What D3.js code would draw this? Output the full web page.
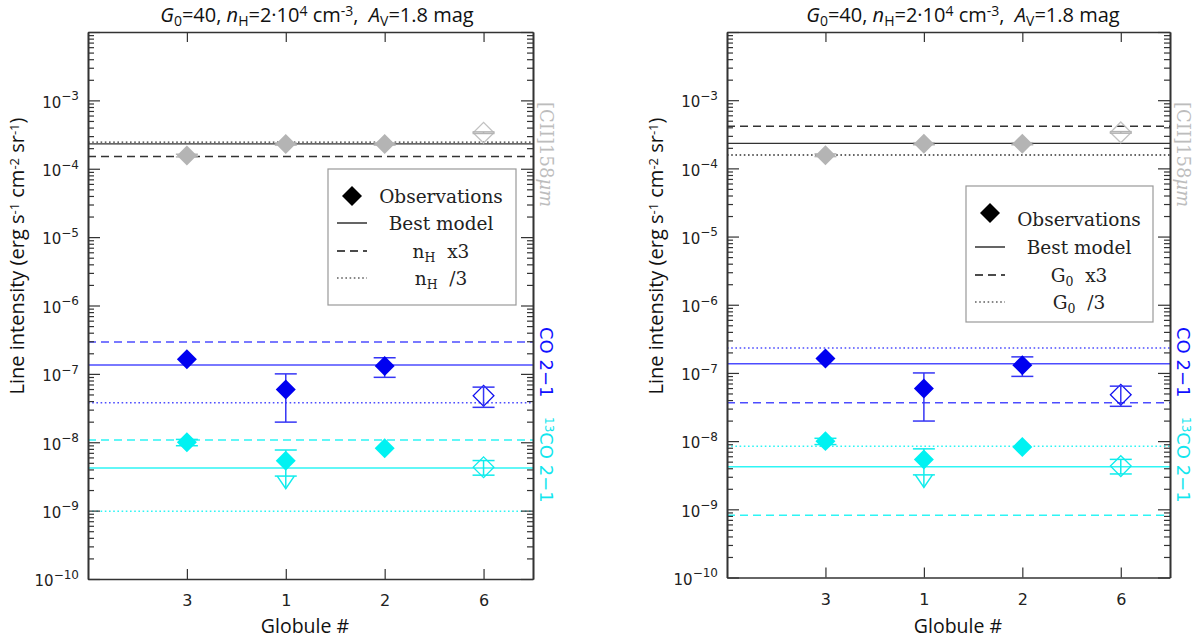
<!DOCTYPE html>
<html>
<head>
<meta charset="utf-8">
<script src="https://cdn.jsdelivr.net/npm/d3@7"></script>
<style>
  body { margin: 0; background: #fff; }
  svg { display: block; }
  .sans { font-family: "Open Sans", "DejaVu Sans", sans-serif; }
  .tick text { font-family: "DejaVu Sans", sans-serif; }
</style>
</head>
<body>
<svg id="chart" width="1200" height="638"></svg>
<script>
// Line intensities per globule, two panels (n_H and G0 variations)

const categories = ["3", "1", "2", "6"];
const openPoint = [false, false, false, true];   // globule 6 drawn hollow

// observations (same in both panels)
const ciiObs = [1.56e-4, 2.3e-4, 2.3e-4, 3.37e-4];
const ciiLo = [1.49e-4, 2.22e-4, 2.22e-4, 3.28e-4];
const ciiHi = [1.63e-4, 2.38e-4, 2.38e-4, 3.46e-4];

const coObs = [1.63e-7, 5.9e-8, 1.3e-7, 4.78e-8];
const coLo = [null, 1.97e-8, 8.9e-8, 3.24e-8];
const coHi = [null, 1.0e-7, 1.72e-7, 6.4e-8];

const co13Obs = [1.0e-8, 5.37e-9, 8.2e-9, 4.3e-9];
const co13Lo = [8.9e-9, 3.2e-9, null, 3.3e-9];
const co13Hi = [1.1e-8, 7.7e-9, null, 5.4e-9];
const co13Arrow = [null, 2.1e-9, null, null];    // lower side open (arrow tip)

// models: [CII, CO, 13CO]
const nhBest = [2.31e-4, 1.35e-7, 4.2e-9];
const nhX3 = [1.51e-4, 2.92e-7, 1.08e-8];
const nhDiv3 = [2.45e-4, 3.78e-8, 9.8e-10];

const g0Best = [2.33e-4, 1.36e-7, 4.2e-9];
const g0X3 = [4.15e-4, 3.66e-8, 8.2e-10];
const g0Div3 = [1.57e-4, 2.33e-7, 8.4e-9];

const svg = d3.select("#chart");

const species = [
  { obs: ciiObs, lo: ciiLo, hi: ciiHi, arrow: [null, null, null, null],
    mark: "#b4b4b4", open: "#c2c2c2", line: "#333333", err: "#b4b4b4" },
  { obs: coObs, lo: coLo, hi: coHi, arrow: [null, null, null, null],
    mark: "#0000f0", open: "#1010f0", line: "#4d4dff", err: "#3535f5" },
  { obs: co13Obs, lo: co13Lo, hi: co13Hi, arrow: co13Arrow,
    mark: "#00f2f2", open: "#10ecec", line: "#2ef5f5", err: "#10ecec" }
];

const dashes = { best: null, x3: "8,5", div3: "1.6,2.6" };

function drawPanel(cfg) {
  const g = svg.append("g");
  const x = d3.scaleLinear().domain([0, 4.5]).range([cfg.left, cfg.right]);
  const y = d3.scaleLog().domain([1e-10, 1e-2]).range([cfg.bottom, cfg.top]);

  const majors = d3.range(-10, -1).map(e => Math.pow(10, e));
  const minors = d3.range(-10, -2).flatMap(e => d3.range(2, 10).map(k => k * Math.pow(10, e)));

  // model lines
  const models = [
    { vals: cfg.best, dash: dashes.best },
    { vals: cfg.x3, dash: dashes.x3 },
    { vals: cfg.div3, dash: dashes.div3 }
  ];
  models.forEach(m => {
    m.vals.forEach((v, i) => {
      g.append("line")
        .attr("x1", cfg.left).attr("x2", cfg.right)
        .attr("y1", y(v)).attr("y2", y(v))
        .attr("stroke", species[i].line)
        .attr("stroke-width", i === 0 ? 1.3 : 1.5)
        .attr("stroke-dasharray", m.dash);
    });
  });

  // observations
  const diamond = d3.symbol().type(d3.symbolSquare).size(200);
  species.forEach(s => {
    s.obs.forEach((v, i) => {
      const cx = x(i + 1);
      if (!openPoint[i]) {
        drawErr(g, cx, s, i, y);
        g.append("path").attr("d", diamond())
          .attr("transform", `translate(${cx},${y(v)}) rotate(45)`)
          .attr("fill", s.mark);
      } else {
        g.append("path").attr("d", d3.symbol().type(d3.symbolSquare).size(215)())
          .attr("transform", `translate(${cx},${y(v)}) rotate(45)`)
          .attr("fill", "none").attr("stroke", s.open).attr("stroke-width", 1.3);
        drawErr(g, cx, s, i, y);
      }
    });
  });

  // axes
  const axStyle = sel => {
    sel.selectAll("path.domain").attr("stroke", "#333").attr("stroke-width", 1.6);
    sel.selectAll(".tick line").attr("stroke", "#333").attr("stroke-width", 1.2);
  };
  g.append("g").attr("transform", `translate(${cfg.left},0)`)
    .call(d3.axisLeft(y).tickValues(minors).tickSize(-6).tickSizeOuter(0).tickFormat(""))
    .call(axStyle);
  g.append("g").attr("transform", `translate(${cfg.right},0)`)
    .call(d3.axisRight(y).tickValues(minors).tickSize(-6).tickSizeOuter(0).tickFormat(""))
    .call(axStyle);
  g.append("g").attr("transform", `translate(${cfg.right},0)`)
    .call(d3.axisRight(y).tickValues(majors).tickSize(-12).tickSizeOuter(0).tickFormat(""))
    .call(axStyle);
  const yAx = g.append("g").attr("transform", `translate(${cfg.left},0)`)
    .call(d3.axisLeft(y).tickValues(majors).tickSize(-12).tickSizeOuter(0).tickPadding(9).tickFormat(""))
    .call(axStyle);
  yAx.selectAll(".tick text").each(function(d) {
    const e = Math.round(Math.log10(d));
    if (e > -3) return;
    const t = d3.select(this).attr("dy", "0.45em")
      .attr("font-size", 15).attr("fill", "#222");
    t.append("tspan").text("10");
    t.append("tspan").attr("dy", "-0.62em").attr("font-size", 12).text("\u2212" + (-e));
  });

  g.append("g").attr("transform", `translate(0,${cfg.bottom})`)
    .call(d3.axisBottom(x).tickValues([1, 2, 3, 4]).tickSize(-10).tickSizeOuter(0)
      .tickPadding(16).tickFormat(i => categories[i - 1]))
    .call(axStyle)
    .selectAll(".tick text").attr("font-size", 16).attr("fill", "#222");
  g.append("g").attr("transform", `translate(0,${cfg.top})`)
    .call(d3.axisTop(x).tickValues([1, 2, 3, 4]).tickSize(-10).tickSizeOuter(0).tickFormat(""))
    .call(axStyle);

  // title
  const title = g.append("text").attr("class", "sans")
    .attr("x", cfg.titleX).attr("y", 22).attr("text-anchor", "middle")
    .attr("font-size", 20).attr("fill", "#111");
  title.append("tspan").attr("font-style", "italic").text("G");
  title.append("tspan").attr("dy", 4).attr("font-size", 14).text("0");
  title.append("tspan").attr("dy", -4).text("=40, ");
  title.append("tspan").attr("font-style", "italic").text("n");
  title.append("tspan").attr("dy", 4).attr("font-size", 14).text("H");
  title.append("tspan").attr("dy", -4).text("=2\u00b710");
  title.append("tspan").attr("dy", -6).attr("font-size", 14).text("4");
  title.append("tspan").attr("dy", 6).text(" cm");
  title.append("tspan").attr("dy", -6).attr("font-size", 14).text("-3");
  title.append("tspan").attr("dy", 6).text(",\u00a0\u00a0");
  title.append("tspan").attr("font-style", "italic").text("A");
  title.append("tspan").attr("dy", 4).attr("font-size", 14).text("V");
  title.append("tspan").attr("dy", -4).text("=1.8 mag");

  // y label
  const yl = g.append("text").attr("class", "sans")
    .attr("transform", `translate(${cfg.left - 64},256) rotate(-90)`)
    .attr("text-anchor", "middle").attr("font-size", 20).attr("fill", "#111");
  yl.append("tspan").text("Line intensity (erg s");
  yl.append("tspan").attr("dy", -5).attr("font-size", 13).text("-1");
  yl.append("tspan").attr("dy", 5).text(" cm");
  yl.append("tspan").attr("dy", -5).attr("font-size", 13).text("-2");
  yl.append("tspan").attr("dy", 5).text(" sr");
  yl.append("tspan").attr("dy", -5).attr("font-size", 13).text("-1");
  yl.append("tspan").attr("dy", 5).text(")");

  // x label
  g.append("text").attr("class", "sans")
    .attr("x", cfg.xLabelX).attr("y", 633).attr("text-anchor", "middle")
    .attr("font-size", 19.5).attr("fill", "#111").text("Globule #");

  // species labels on the right
  const lx = cfg.right + 7;
  g.append("text").attr("transform", `translate(${lx},102) rotate(90)`)
    .attr("font-family", "DejaVu Serif, serif").attr("font-size", 18).attr("fill", "#bdbdbd")
    .call(t => {
      t.append("tspan").text("[CII]158");
      t.append("tspan").attr("font-style", "italic").text("\u03bcm");
    });
  g.append("text").attr("transform", `translate(${lx},327) rotate(90)`)
    .attr("font-family", "DejaVu Sans, sans-serif").attr("font-size", 18).attr("fill", "#1010ff")
    .text("CO 2\u22121");
  g.append("text").attr("transform", `translate(${lx},417) rotate(90)`)
    .attr("font-family", "DejaVu Sans, sans-serif").attr("font-size", 18).attr("fill", "#12e6ee")
    .call(t => {
      t.append("tspan").attr("dy", -5).attr("font-size", 12).text("13");
      t.append("tspan").attr("dy", 5).text("CO 2\u22121");
    });

  // legend
  const L = cfg.legend;
  const lg = g.append("g");
  lg.append("rect").attr("x", L.x0).attr("y", L.y0)
    .attr("width", L.x1 - L.x0).attr("height", L.y1 - L.y0)
    .attr("fill", "#fff").attr("stroke", "#999").attr("stroke-width", 1.2);
  const symX = L.x0 + 24;
  lg.append("path").attr("d", diamond())
    .attr("transform", `translate(${symX},${L.ys[0] - L.symOff}) rotate(45)`)
    .attr("fill", "#000");
  [dashes.best, dashes.x3, dashes.div3].forEach((dash, k) => {
    lg.append("line").attr("x1", symX - 15).attr("x2", symX + 15)
      .attr("y1", L.ys[k + 1]).attr("y2", L.ys[k + 1])
      .attr("stroke", "#111").attr("stroke-width", k === 2 ? 1.2 : 1.3)
      .attr("stroke-dasharray", dash);
  });
  const textX = L.x0 + 113;
  const legendTexts = ["Observations", "Best model", [cfg.sym, cfg.sub, " x3"], [cfg.sym, cfg.sub, " /3"]];
  legendTexts.forEach((lab, k) => {
    const t = lg.append("text").attr("x", textX).attr("y", L.ys[k] + 7)
      .attr("text-anchor", "middle").attr("font-family", "DejaVu Serif, serif")
      .attr("font-size", 18.5).attr("fill", "#222");
    if (typeof lab === "string") { t.text(lab); return; }
    t.append("tspan").text(lab[0]);
    t.append("tspan").attr("dy", 4).attr("font-size", 12.5).text(lab[1]);
    t.append("tspan").attr("dy", -4).text("\u00a0" + lab[2]);
  });
}

function drawErr(g, cx, s, i, y) {
  if (s.lo[i] == null) return;
  const y0 = y(s.hi[i]), y1 = y(s.lo[i]);
  const w = 11;
  const eg = g.append("g").attr("stroke", s.err).attr("stroke-width", 1.5).attr("fill", "none");
  eg.append("line").attr("x1", cx).attr("x2", cx).attr("y1", y0).attr("y2", y1);
  eg.append("line").attr("x1", cx - w).attr("x2", cx + w).attr("y1", y0).attr("y2", y0);
  eg.append("line").attr("x1", cx - w).attr("x2", cx + w).attr("y1", y1).attr("y2", y1);
  if (s.arrow[i] != null) {
    const yt = y(s.arrow[i]);
    eg.append("line").attr("x1", cx).attr("x2", cx).attr("y1", y1).attr("y2", yt);
    eg.append("path").attr("d", `M${cx - 8.5},${y1}L${cx},${yt}L${cx + 8.5},${y1}`);
  }
}

drawPanel({
  left: 88, right: 533, top: 32, bottom: 579,
  titleX: 317, xLabelX: 305,
  best: nhBest, x3: nhX3, div3: nhDiv3,
  sym: "n", sub: "H",
  legend: { x0: 328, x1: 516, y0: 169, y1: 305, ys: [196, 223, 251, 278], symOff: 0 }
});

drawPanel({
  left: 727, right: 1170, top: 32, bottom: 577.5,
  titleX: 963, xLabelX: 958,
  best: g0Best, x3: g0X3, div3: g0Div3,
  sym: "G", sub: "0",
  legend: { x0: 966, x1: 1153, y0: 186, y1: 322, ys: [219, 247, 275, 302], symOff: 6 }
});
</script>
</body>
</html>
